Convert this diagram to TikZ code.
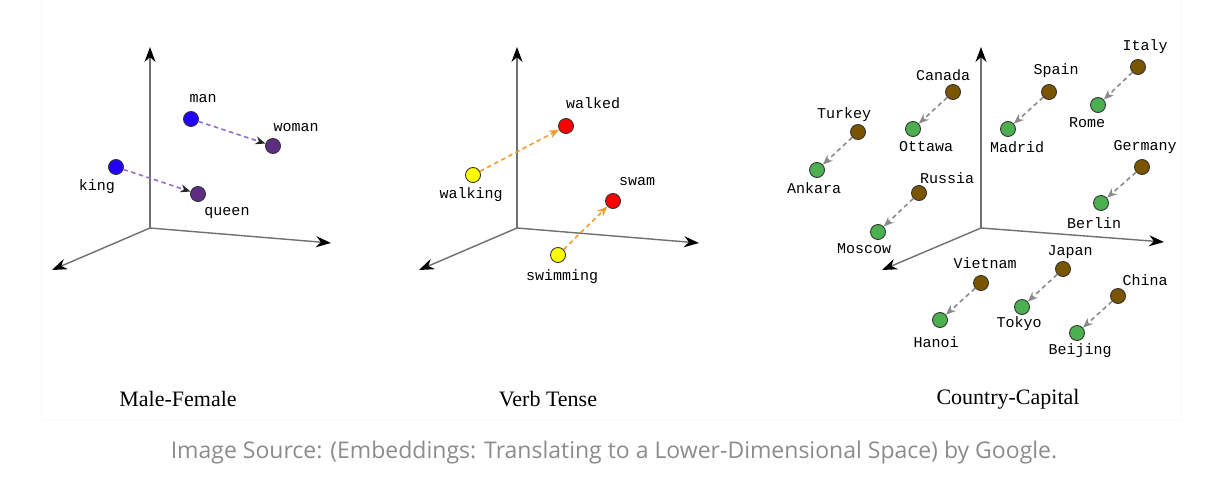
\documentclass[tikz,border=0pt]{standalone}
\usepackage{fontspec}
\setmainfont{Liberation Serif}
\newfontfamily\labfont{Liberation Mono}
\newfontfamily\capfont{Open Sans}
\usetikzlibrary{arrows.meta}
\definecolor{cblue}{HTML}{2200FF}
\definecolor{cpurple}{HTML}{5C2D83}
\definecolor{cpurpledash}{HTML}{9A6BCF}
\definecolor{cyellow}{HTML}{FFFF00}
\definecolor{cred}{HTML}{FF0000}
\definecolor{corange}{HTML}{F59A30}
\definecolor{cbrown}{HTML}{7A5500}
\definecolor{cgreen}{HTML}{4CB050}
\definecolor{cgreydash}{HTML}{8A8A8A}
\definecolor{caxis}{HTML}{707070}
\definecolor{ccap}{HTML}{8C8C8C}
\tikzset{
  dot/.style={circle, draw=black!80, line width=0.9pt, fill=#1, minimum size=15pt, inner sep=0pt},
  lab/.style={font=\labfont\fontsize{15}{15}\selectfont, text=black, inner sep=0pt},
  axisline/.style={draw=caxis, line width=1.4pt, -{Stealth[length=15pt,width=11pt,black]}},
  vec/.style={dash pattern=on 4.5pt off 3.5pt, line width=1.6pt, draw=#1, -{Stealth[length=10pt,width=8pt]}},
  title/.style={font=\fontsize{22}{22}\selectfont, inner sep=0pt},
}
\begin{document}
\begin{tikzpicture}[x=1pt,y=-1pt]
\useasboundingbox (0,0) rectangle (1222,503);
\fill[white] (0,0) rectangle (1222,503);
\draw[black!2.5, line width=0.8pt] (41,-2) rectangle (1181,420);

% ---------- Panel 1 : Male-Female ----------
\coordinate (o1) at (150,228);
\coordinate (t1) at (150,47);
\coordinate (r1) at (331,243);
\coordinate (l1) at (52,270);
\draw[axisline] (o1) -- (t1);
\draw[axisline] (o1) -- (r1);
\draw[axisline] (o1) -- (l1);
\node[dot=cblue] (man) at (191,119) {};
\node[dot=cpurple] (woman) at (273,146) {};
\node[dot=cblue] (king) at (116,167) {};
\node[dot=cpurple] (queen) at (198,194) {};
\draw[vec=cpurpledash, -{Stealth[length=10pt,width=8pt,black!85]}] (man) -- (woman);
\draw[vec=cpurpledash, -{Stealth[length=10pt,width=8pt,black!85]}] (king) -- (queen);
\node[lab] (lman) at (203,99) {man};
\node[lab] (lwoman) at (296,128) {woman};
\node[lab] (lking) at (97,187) {king};
\node[lab] (lqueen) at (227,213) {queen};
\node[title] (t1lab) at (178,399) {Male-Female};

% ---------- Panel 2 : Verb Tense ----------
\coordinate (o2) at (517,228);
\coordinate (t2) at (517,47);
\coordinate (r2) at (699,243);
\coordinate (l2) at (419,270);
\draw[axisline] (o2) -- (t2);
\draw[axisline] (o2) -- (r2);
\draw[axisline] (o2) -- (l2);
\node[dot=cyellow] (walking) at (473,175) {};
\node[dot=cred] (walked) at (566,126) {};
\node[dot=cyellow] (swimming) at (558,255) {};
\node[dot=cred] (swam) at (613,201) {};
\draw[vec=corange] (walking) -- (walked);
\draw[vec=corange] (swimming) -- (swam);
\node[lab] (lwalked) at (593,103) {walked};
\node[lab] (lwalking) at (471,195) {walking};
\node[lab] (lswam) at (637,182) {swam};
\node[lab] (lswimming) at (562,277) {swimming};
\node[title] (t2lab) at (548,399) {Verb Tense};

% ---------- Panel 3 : Country-Capital ----------
\coordinate (o3) at (981,228);
\coordinate (t3) at (981,47);
\coordinate (r3) at (1164,242);
\coordinate (l3) at (882,270);
\draw[axisline] (o3) -- (t3);
\draw[axisline] (o3) -- (r3);
\draw[axisline] (o3) -- (l3);
\foreach \cn/\cx/\cy/\cl/\clx/\cly/\kn/\kx/\ky/\kl/\klx/\kly in {
  italy/1138/67/Italy/1145/47/rome/1098/105/Rome/1087/123,
  spain/1049/92/Spain/1056/71/madrid/1008/129/Madrid/1017/147,
  canada/953/92/Canada/943/75/ottawa/913/129/Ottawa/926/147,
  turkey/858/132/Turkey/844/115/ankara/817/170/Ankara/814/188,
  russia/919/193/Russia/947/178/moscow/878/232/Moscow/864/249,
  germany/1142/167/Germany/1145/147/berlin/1101/203/Berlin/1094/223,
  vietnam/981/283/Vietnam/985/263/hanoi/940/320/Hanoi/936/342,
  japan/1063/269/Japan/1070/252/tokyo/1022/307/Tokyo/1019/324,
  china/1118/296/China/1145/280/beijing/1077/333/Beijing/1080/351}{
  \node[dot=cbrown] (\cn) at (\cx,\cy) {};
  \node[dot=cgreen] (\kn) at (\kx,\ky) {};
  \draw[vec=cgreydash] (\cn) -- (\kn);
  \node[lab] (l\cn) at (\clx,\cly) {\cl};
  \node[lab] (l\kn) at (\klx,\kly) {\kl};
}
\node[title] (t3lab) at (1008,399) {Country-Capital};

% ---------- Caption ----------
\node[font=\capfont\fontsize{23}{23}\selectfont, text=ccap, inner sep=0pt] (caption) at (614,453)
  {Image Source: (Embeddings: Translating to a Lower-Dimensional Space) by Google.};
\end{tikzpicture}
\end{document}
